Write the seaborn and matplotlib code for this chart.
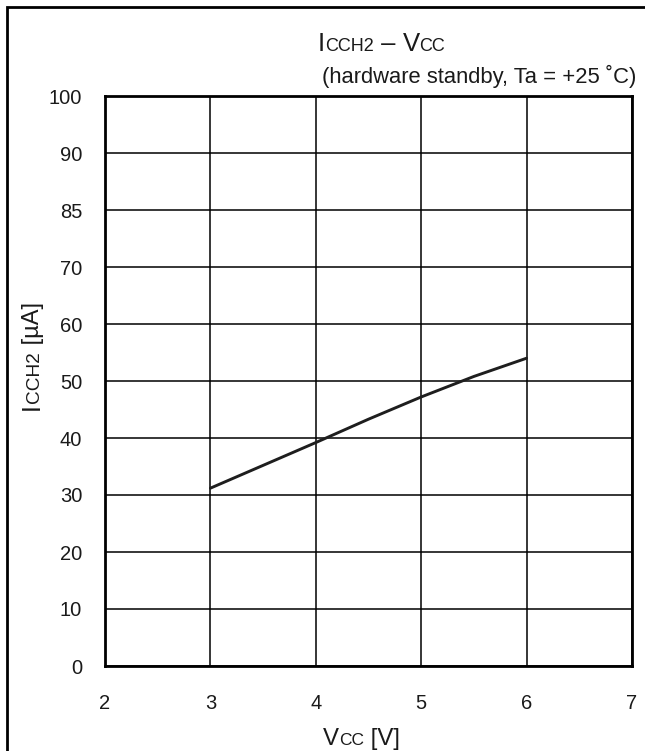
import matplotlib
matplotlib.use("Agg")
import matplotlib.pyplot as plt
from matplotlib.patches import Rectangle
import seaborn as sns
import pandas as pd

# ICCH2 - VCC (hardware standby, Ta = +25 C)
vcc = [3.0, 3.5, 4.0, 4.5, 5.0, 5.5, 6.0]
icch2 = [31.2, 35.2, 39.2, 43.3, 47.2, 50.8, 54.0]

x_ticks = [2, 3, 4, 5, 6, 7]
y_tick_pos = [0, 10, 20, 30, 40, 50, 60, 70, 80, 90, 100]
y_tick_labels = ["0", "10", "20", "30", "40", "50", "60", "70", "85", "90", "100"]

df = pd.DataFrame({"vcc": vcc, "icch2": icch2})

sns.set_theme(style="white")
plt.rcParams["font.family"] = ["Liberation Sans", "DejaVu Sans"]

W, H = 645, 751
fig = plt.figure(figsize=(W / 100, H / 100), dpi=100)
ax = fig.add_axes([105 / W, (H - 666) / H, (632 - 105) / W, (666 - 96) / H])

sns.lineplot(data=df, x="vcc", y="icch2", ax=ax, color="#1e1e1e", lw=2.1)

ax.set_xlim(2, 7)
ax.set_ylim(0, 100)
ax.set_xticks(x_ticks)
ax.set_yticks(y_tick_pos)
ax.set_yticklabels(y_tick_labels)
ax.set_xlabel("")
ax.set_ylabel("")
ax.grid(True, color="black", lw=1.1)
ax.tick_params(axis="both", length=0, labelsize=14.5, labelcolor="#1a1a1a")
ax.tick_params(axis="y", pad=16.5)
ax.tick_params(axis="x", pad=20.5)
for sp in ax.spines.values():
    sp.set_visible(True)
    sp.set_color("black")
    sp.set_linewidth(2.0)

# outer frame, cut off at the right and bottom edges
fig.patches.append(Rectangle((7 / W, -0.1), 1.2, (H - 7) / H + 0.1,
                             transform=fig.transFigure, fill=False,
                             edgecolor="black", lw=2.0))

renderer = fig.canvas.get_renderer()


def mixed_text(x_px, y_px, pieces, rotation=0):
    # place text pieces of different sizes one after another along a baseline
    pos = 0.0
    for s, size in pieces:
        if rotation == 0:
            xx, yy = x_px + pos, H - y_px
        else:
            xx, yy = x_px, H - y_px + pos
        t = fig.text(xx / W, yy / H, s, fontsize=size, rotation=rotation,
                     ha="left", va="baseline", rotation_mode="anchor",
                     color="#1a1a1a")
        bb = t.get_window_extent(renderer)
        pos += bb.width if rotation == 0 else bb.height


mixed_text(318, 51, [("I", 18.5), ("CCH2", 13), (" \u2013 ", 18.5), ("V", 18.5), ("CC", 13)])
fig.text(322 / W, (H - 83) / H, "(hardware standby, Ta = +25 \u02daC)",
         fontsize=15.8, ha="left", va="baseline", color="#1a1a1a")
mixed_text(323, 745, [("V", 17.3), ("CC", 12.5), (" [V]", 17.3)])
mixed_text(39, 410, [("I", 18), ("CCH2", 13.7), (" [\u00b5A]", 17)], rotation=90)

fig.savefig("out.png", dpi=100)
